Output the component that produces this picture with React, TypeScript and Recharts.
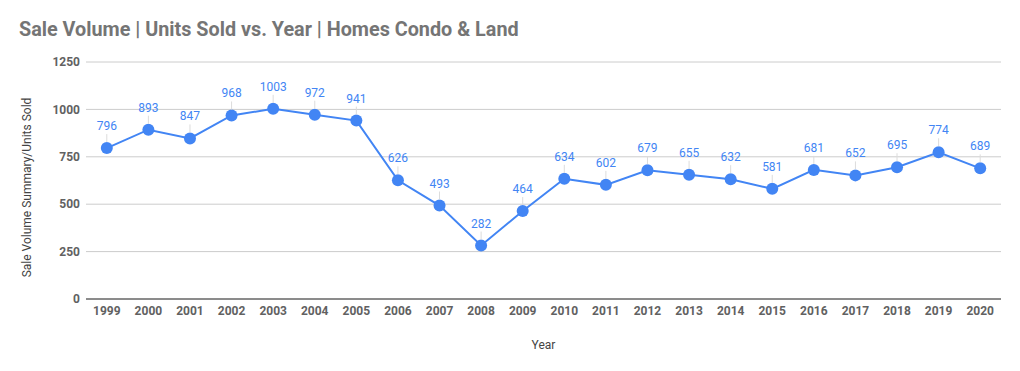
import { LineChart, Line, XAxis, YAxis, CartesianGrid, LabelList } from "recharts";

const years = [
  "1999", "2000", "2001", "2002", "2003", "2004", "2005", "2006", "2007", "2008", "2009",
  "2010", "2011", "2012", "2013", "2014", "2015", "2016", "2017", "2018", "2019", "2020",
];
const unitsSold = [
  796, 893, 847, 968, 1003, 972, 941, 626, 493, 282, 464,
  634, 602, 679, 655, 632, 581, 681, 652, 695, 774, 689,
];
const yTicks = [0, 250, 500, 750, 1000, 1250];

const data = years.map((year, i) => ({ year, units: unitsSold[i] }));

const BLUE = "#4285f4";
const FONT = "Roboto, sans-serif";

const PointLabel = (props: any) => {
  const { x, y, value } = props;
  return (
    <g>
      <line x1={x} x2={x} y1={y - 14} y2={y - 6} stroke="#dcdcdc" strokeWidth={1} />
      <text x={x} y={y - 22} textAnchor="middle" dominantBaseline="central" fill={BLUE} fontSize={12} fontFamily={FONT}>
        {value}
      </text>
    </g>
  );
};

export default function App() {
  return (
    <div style={{ position: "absolute", left: 0, top: 0, width: 1020, height: 371, background: "#fff" }}>
      <div
        style={{
          position: "absolute",
          left: 19,
          top: 18,
          fontFamily: FONT,
          fontSize: 19.8,
          fontWeight: 700,
          color: "#757575",
          whiteSpace: "nowrap",
        }}
      >
        Sale Volume | Units Sold vs. Year | Homes Condo &amp; Land
      </div>
      <LineChart width={1020} height={371} data={data} margin={{ top: 62, right: 19, left: 0, bottom: 12 }}>
        <CartesianGrid vertical={false} stroke="#cccccc" />
        <XAxis
          dataKey="year"
          padding={{ left: 20.8, right: 20.8 }}
          tickLine={false}
          axisLine={{ stroke: "#333333", strokeWidth: 1 }}
          tickSize={5}
          tickMargin={2}
          height={60}
          interval={0}
          tick={{ fill: "#616161", fontSize: 12, fontWeight: 700, fontFamily: FONT }}
          label={{
            content: (p: any) => (
              <text
                x={p.viewBox.x + p.viewBox.width / 2}
                y={p.viewBox.y + 46}
                textAnchor="middle"
                dominantBaseline="central"
                fill="#444"
                fontSize={12}
                fontFamily={FONT}
              >
                Year
              </text>
            ),
          }}
        />
        <YAxis
          domain={[0, 1250]}
          ticks={yTicks}
          width={86}
          tickLine={false}
          axisLine={false}
          tickSize={4}
          tickMargin={2}
          tick={{ fill: "#616161", fontSize: 12, fontWeight: 700, fontFamily: FONT }}
          label={{
            content: (p: any) => {
              const cx = 27;
              const cy = p.viewBox.y + p.viewBox.height / 2 + 7;
              return (
                <text
                  x={cx}
                  y={cy}
                  transform={`rotate(-90 ${cx} ${cy})`}
                  textAnchor="middle"
                  dominantBaseline="central"
                  fill="#444"
                  fontSize={12}
                  fontFamily={FONT}
                >
                  Sale Volume Summary/Units Sold
                </text>
              );
            },
          }}
        />
        <Line
          type="linear"
          dataKey="units"
          stroke={BLUE}
          strokeWidth={2}
          dot={{ r: 6, fill: BLUE, stroke: BLUE, strokeWidth: 0 }}
          activeDot={false}
          isAnimationActive={false}
        >
          <LabelList dataKey="units" content={PointLabel} />
        </Line>
      </LineChart>
    </div>
  );
}
